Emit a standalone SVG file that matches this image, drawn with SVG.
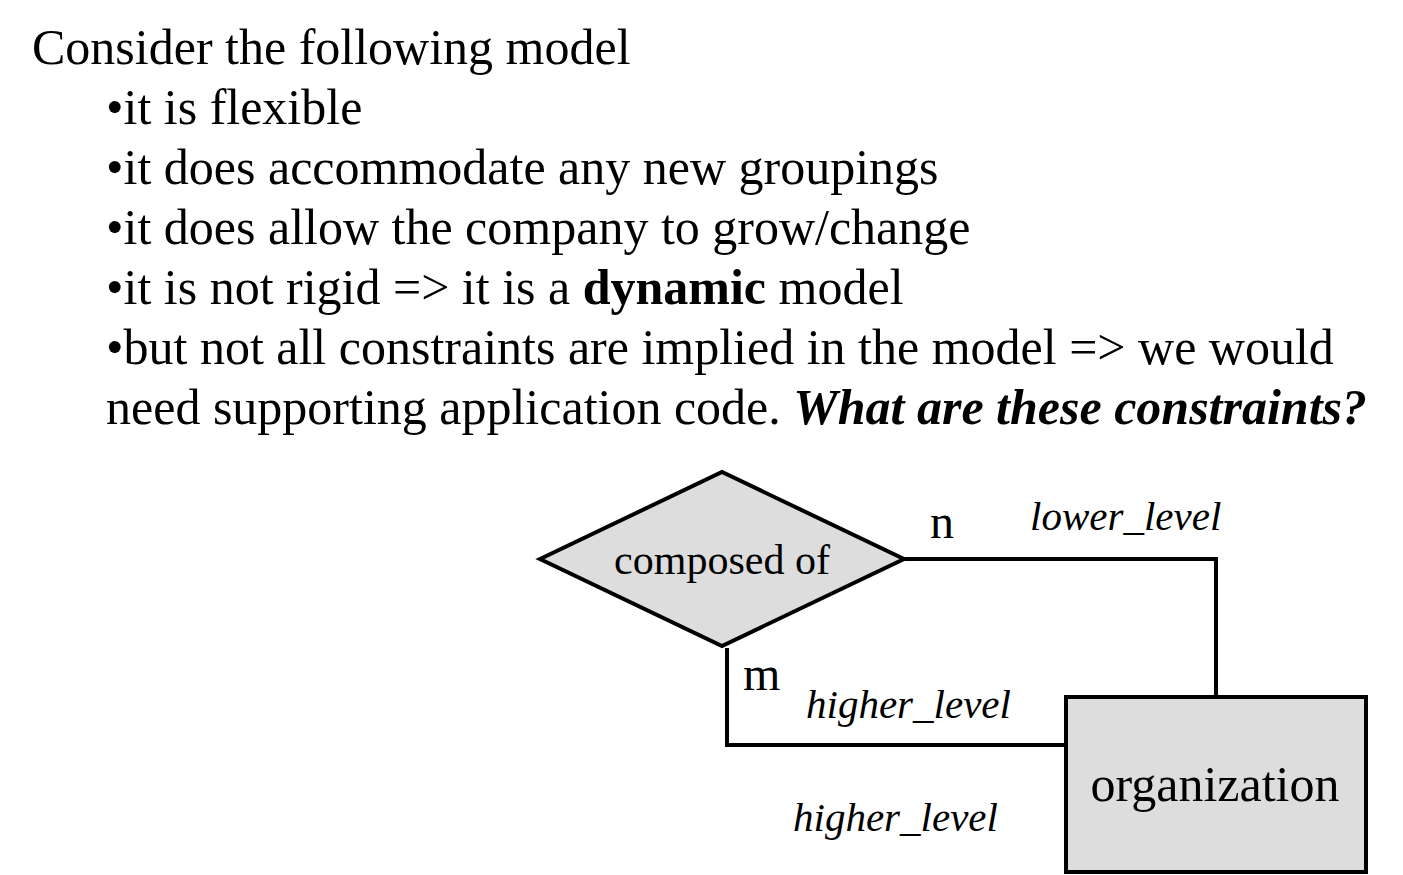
<svg xmlns="http://www.w3.org/2000/svg" width="1403" height="875" viewBox="0 0 1403 875">
<style>
text{font-family:"Liberation Serif","Times New Roman",serif;fill:#000}
.main{font-size:50px}
.lbl{font-size:41px;font-style:italic}
.card{font-size:48px}
.shape{fill:#dddddd;stroke:#000;stroke-width:4}
.conn{fill:none;stroke:#000;stroke-width:4}
</style>
<rect width="1403" height="875" fill="#fff"/>
<g id="text">
<text class="main" x="32" y="64">Consider the following model</text>
<text class="main" x="106" y="124">•it is flexible</text>
<text class="main" x="106" y="184">•it does accommodate any new groupings</text>
<text class="main" x="106" y="244">•it does allow the company to grow/change</text>
<text class="main" x="106" y="304">•it is not rigid =&gt; it is a <tspan font-weight="bold">dynamic</tspan> model</text>
<text class="main" x="106" y="364">•but not all constraints are implied in the model =&gt; we would</text>
<text class="main" x="106" y="424">need supporting application code. <tspan font-weight="bold" font-style="italic">What are these constraints?</tspan></text>
</g>
<g id="connectors">
<polyline class="conn" points="904,559 1216,559 1216,697"/>
<polyline class="conn" points="727,648 727,745 1066,745"/>
</g>
<g id="composed_of">
<polygon class="shape" points="540,559 722,472 904,559 722,646"/>
<text x="722" y="574" font-size="42" text-anchor="middle">composed of</text>
</g>
<g id="organization">
<rect class="shape" x="1066" y="697" width="300" height="175"/>
<text x="1215" y="801" font-size="50" text-anchor="middle">organization</text>
</g>
<g id="labels">
<text class="card" x="930" y="538">n</text>
<text class="lbl" x="1030" y="530">lower_level</text>
<text class="card" x="743" y="690">m</text>
<text class="lbl" x="806" y="718">higher_level</text>
<text class="lbl" x="793" y="831">higher_level</text>
</g>
</svg>
